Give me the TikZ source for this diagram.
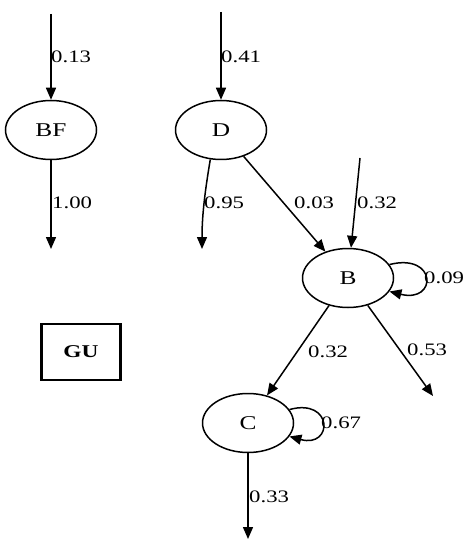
\documentclass[tikz,border=0pt]{standalone}
\usepackage{fontspec}
\setmainfont[FakeStretch=1.3]{Liberation Serif}
\usetikzlibrary{arrows.meta,shapes.geometric}

\begin{document}
\begin{tikzpicture}[x=1pt,y=-1pt,
  state/.style={ellipse,draw,line width=1.5pt,minimum width=91pt,minimum height=59pt,
    inner sep=0pt,font=\fontsize{19.5}{19.5}\selectfont},
  edge/.style={line width=1.5pt,-{Triangle[length=12pt,width=10pt]}},
  prob/.style={anchor=west,inner sep=0pt,font=\fontsize{17.5}{17.5}\selectfont}]
  \useasboundingbox (0,0) rectangle (465,545);
  % states
  \node[state] (BF) at (51,130) {BF};
  \node[state] (D) at (221,130) {D};
  \node[state] (B) at (348,278) {B};
  \node[state] (C) at (248,423) {C};
  \node[draw,line width=2.6pt,minimum width=79pt,minimum height=56pt,inner sep=0pt,
    font=\bfseries\fontsize{18}{18}\selectfont] (GU) at (81,352) {GU};
  % free ends
  \coordinate (bfin) at (51,14);
  \coordinate (bfout) at (51,249);
  \coordinate (din) at (221,12);
  \coordinate (dout) at (202,249);
  \coordinate (bin) at (360,158);
  \coordinate (bout) at (433,396);
  \coordinate (cout) at (248,539);
  % transitions
  \draw[edge] (bfin) -- (BF);
  \draw[edge] (BF) -- (bfout);
  \draw[edge] (din) -- (D);
  \draw[edge] (D.250) .. controls +(-5,30) and +(0,-35) .. (dout);
  \draw[edge] (D) -- (B);
  \draw[edge] (bin) -- (B);
  \draw[edge] (B.18) .. controls +(48,-12) and +(48,12) .. (B.-18);
  \draw[edge] (B) -- (C);
  \draw[edge] (B) -- (bout);
  \draw[edge] (C.18) .. controls +(44,-12) and +(44,12) .. (C.-18);
  \draw[edge] (C) -- (cout);
  % probabilities
  \foreach \nm/\x/\y/\p in {pbfin/51/57/0.13, pbfout/52/203/1.00, pdin/221/57/0.41,
    pdout/204/203/0.95, pdb/294/203/0.03, pbin/357/203/0.32, pbb/424/278/0.09,
    pbc/308/352/0.32, pbout/407/350/0.53, pcc/321/423/0.67, pcout/249/497/0.33}
    \node[prob] (\nm) at (\x,\y) {\p};
\end{tikzpicture}
\end{document}
